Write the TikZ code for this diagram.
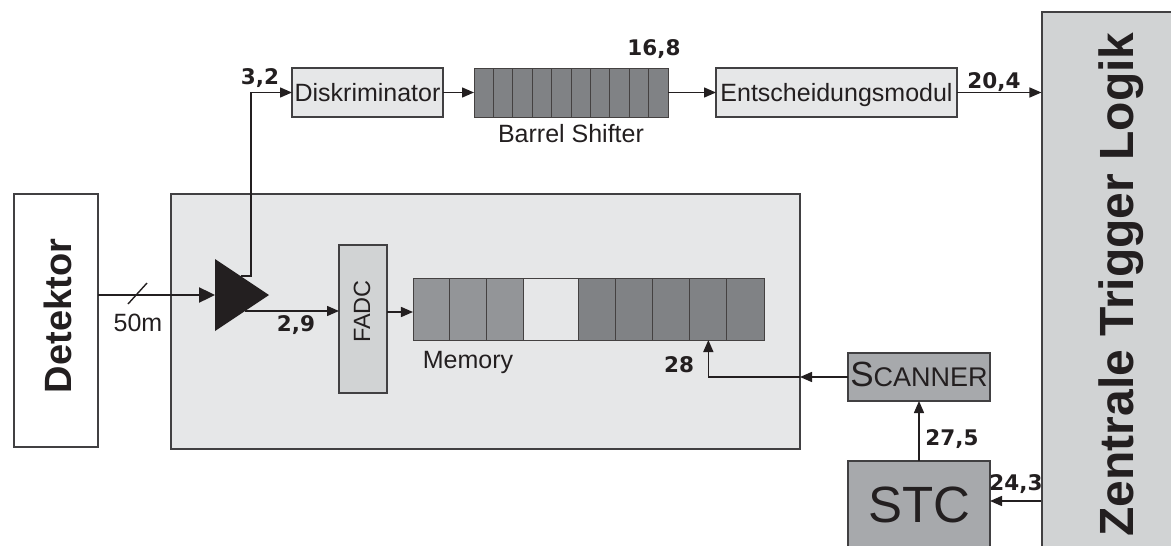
\documentclass[tikz,border=0pt]{standalone}
\usepackage{fontspec}
\usepackage{graphicx}
\setmainfont{Liberation Sans}
\newfontfamily\numfont{DejaVu Sans}
\usetikzlibrary{arrows.meta}

\definecolor{ink}{HTML}{231F20}
\definecolor{edge}{HTML}{414042}
\definecolor{panel}{HTML}{E6E7E8}
\definecolor{pale}{HTML}{D1D3D4}
\definecolor{mid}{HTML}{A7A9AC}
\definecolor{cellA}{HTML}{939598}
\definecolor{cellB}{HTML}{808285}

\newcommand{\fsz}[1]{\fontsize{#1}{#1}\selectfont}

\tikzset{
  box/.style={draw=edge, line width=1.1pt, inner sep=0pt, outer sep=0pt, text=ink},
  cell/.style={draw=ink!85, line width=0.9pt, inner sep=0pt, outer sep=0pt},
  conn/.style={draw=ink, line width=1.5pt, -{Triangle[length=12pt,width=10pt]}},
  num/.style={font=\numfont\bfseries\fsz{21.5}, anchor=base, inner sep=0pt, text=ink},
  txt/.style={font=\fsz{25}, anchor=base, inner sep=0pt, text=ink},
}

\begin{document}
\begin{tikzpicture}[x=1pt, y=-1pt]
\useasboundingbox (0,0) rectangle (1171,546);
\clip (0,0) rectangle (1171,546);

% front-end crate
\node[box, fill=panel, minimum width=629, minimum height=255] (fe) at (485.5,321.5) {};

% detector
\node[box, fill=white, rotate=90, minimum width=253, minimum height=84,
      text height=30pt, text depth=0pt, font=\bfseries\fsz{38}] (det) at (56,320.5) {\hspace*{9pt}Detektor};

% amplifier
\coordinate (ampA) at (215,259);
\coordinate (ampB) at (215,331);
\coordinate (ampC) at (269,295);
\coordinate (ampin) at (215,295);
\coordinate (ampup) at (240.5,276);
\coordinate (ampknee) at (251,276);
\coordinate (ampdn) at (245,311);
\fill[ink] (ampA) -- (ampC) -- (ampB) -- cycle;

% flash ADC
\node[box, fill=pale, rotate=90, minimum width=148, minimum height=48,
      text height=17pt, text depth=3pt, font=\fsz{23.5}] (fadc) at (363,319) {\hspace*{15pt}FADC};

% ring memory
\foreach \n/\cx/\w/\c in {c1/431.33/36.67/cellA, c2/468/36.67/cellA, c3/504.67/36.67/cellA,
    c4/550.75/55.5/panel, c5/597.05/37.1/cellB, c6/634.15/37.1/cellB,
    c7/671.25/37.1/cellB, c8/708.35/37.1/cellB, c9/745.45/37.1/cellB}
  \node[cell, fill=\c, minimum width=\w, minimum height=62] (\n) at (\cx,309) {};
\node[txt] (meml) at (468,368) {Memory};

% trigger path
\node[box, fill=panel, minimum width=151, minimum height=49,
      text height=18pt, text depth=0pt, font=\fsz{25}] (disk) at (367.5,92.5) {Diskriminator};
\foreach \i in {1,...,10}
  \node[cell, fill=cellB, minimum width=19.4, minimum height=49] (b\i) at ({474+19.4*(\i-0.5)},92.5) {};
\node[txt] (bsl) at (571,142) {Barrel Shifter};
\node[box, fill=panel, minimum width=241, minimum height=49,
      text height=18pt, text depth=0pt, font=\fsz{25}] (ent) at (836.5,92.5) {Entscheidungsmodul};

% central trigger logic
\node[draw=edge, line width=1.1pt, fill=pale, minimum width=138, minimum height=548, inner sep=0pt] (zt) at (1111,286) {};
\node[rotate=90, anchor=base, inner sep=0pt, text=ink, font=\bfseries\fsz{48}] (ztl) at (1133,284.5) {Zentrale Trigger Logik};

% readout control
\node[box, fill=mid, minimum width=142, minimum height=48, text height=18pt, text depth=0pt] (scan) at (919,377)
  {\fsz{35}S\fsz{27}CANNER};
\node[box, fill=mid, minimum width=142, minimum height=100, text height=37pt, text depth=15pt,
      font=\fsz{51}] (stc) at (919,511) {STC};

% connections
\coordinate (fm) at (0,312);
\coordinate (zs) at (0,501);
\draw[draw=ink, line width=2.4pt, -{Triangle[length=16pt,width=15pt]}] (det.south |- ampin) -- (ampin);
\draw[ink, line width=1.4pt] (128,304) -- (147,283);
\draw[conn] (ampup) -- (ampknee) |- (disk.west);
\draw[conn] (ampdn) -- (fadc.north |- ampdn);
\draw[conn] (fadc.south |- fm) -- (c1.west |- fm);
\draw[conn] (disk.east) -- (b1.west);
\draw[conn] (b10.east) -- (ent.west);
\draw[conn] (ent.east) -- (zt.west |- ent.east);
\draw[conn] (zt.west |- zs) -- (stc.east |- zs);
\draw[conn] (stc.north) -- (scan.south);
\draw[conn] (scan.west) -- (fe.east |- scan.west);
\draw[conn] (fe.east |- scan.west) -| (c8.south);

% timing labels
\node[txt] (lenl) at (138,331) {50m};
\node[num] (t32) at (260,84) {3,2};
\node[num] (t29) at (296,331) {2,9};
\node[num] (t168) at (654,55) {16,8};
\node[num] (t204) at (994,88) {20,4};
\node[num] (t28) at (679,372) {28};
\node[num] (t275) at (952,445) {27,5};
\node[num] (t243) at (1016,490) {24,3};
\end{tikzpicture}
\end{document}
